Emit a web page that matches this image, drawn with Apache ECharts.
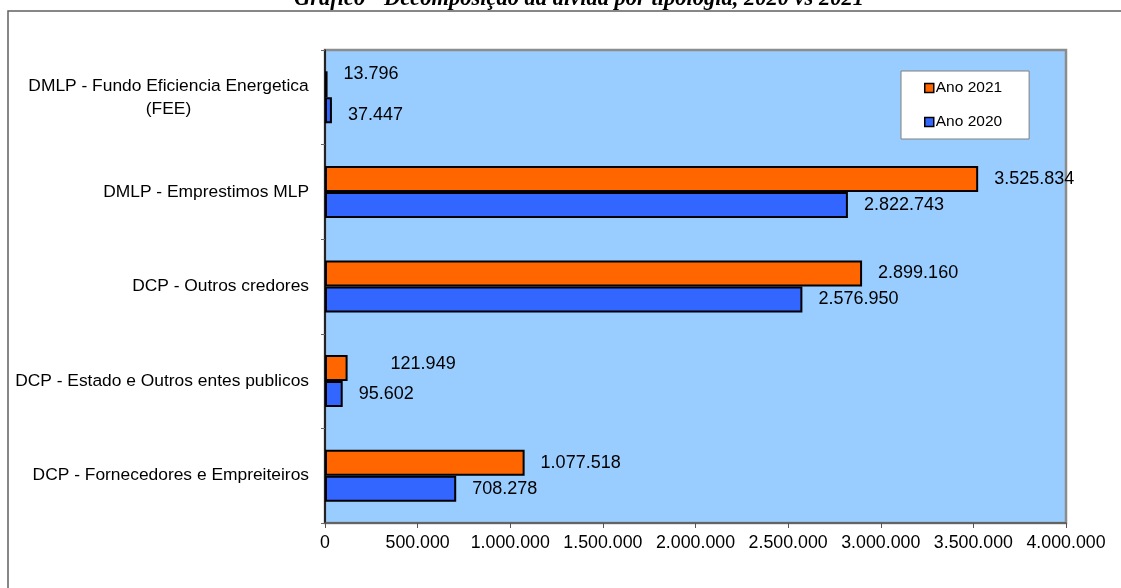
<!DOCTYPE html>
<html>
<head>
<meta charset="utf-8">
<script src="https://cdn.jsdelivr.net/npm/echarts@6/dist/echarts.min.js"></script>
<style>
html,body{margin:0;padding:0;background:#fff;}
#c{width:1121px;height:588px;}
</style>
</head>
<body>
<div id="c"></div>
<script>
const titleText = 'Gráfico - Decomposição da dívida por tipologia, 2020 vs 2021';
const categories = [
  'DCP - Fornecedores e Empreiteiros',
  'DCP - Estado e Outros entes publicos',
  'DCP - Outros credores',
  'DMLP - Emprestimos MLP',
  'DMLP - Fundo Eficiencia Energetica\n(FEE)'
];
const seriesNames = ['Ano 2021', 'Ano 2020'];
const values2021 = [1077518, 121949, 2899160, 3525834, 13796];
const values2020 = [708278, 95602, 2576950, 2822743, 37447];
const xTicks = { min: 0, max: 4000000, step: 500000 };

function fmt(v) {
  return String(Math.round(v)).replace(/\B(?=(\d{3})+(?!\d))/g, '.');
}

const font = '"Liberation Sans", Arial, Helvetica, sans-serif';
const catFontSize = 17.4;

// measure widest line of multi-line category labels so the block stays right-aligned
const ctx = document.createElement('canvas').getContext('2d');
ctx.font = catFontSize + 'px ' + font;
function lineWidth(s) { return Math.ceil(ctx.measureText(s).width); }
const fullLines = [];
categories.forEach(c => c.split('\n').forEach(l => fullLines.push(l)));
const multiWidth = Math.max.apply(null, categories.filter(c => c.indexOf('\n') >= 0)
  .map(c => Math.max.apply(null, c.split('\n').map(lineWidth))));

const chart = echarts.init(document.getElementById('c'));

const labelBase = {
  show: true, position: 'right', distance: 16,
  color: '#000', fontSize: 18, fontFamily: font,
  formatter: p => fmt(p.value)
};

// per-item label tweaks (styling only)
const lab2021 = values2021.map((v, i) => {
  if (i === 4) return { value: v, label: { offset: [0, -10] } };
  if (i === 1) return { value: v, label: { distance: 43, offset: [0, -4] } };
  return v;
});
const lab2020 = values2020.map((v, i) => {
  if (i === 4) return { value: v, label: { offset: [0, 5] } };
  return v;
});

chart.setOption({
  animation: false,
  backgroundColor: '#fff',
  title: {
    text: titleText,
    left: 294,
    top: -12,
    padding: 0,
    textStyle: {
      fontFamily: '"Liberation Serif", "Times New Roman", serif',
      fontStyle: 'italic', fontWeight: 'bold', fontSize: 22.5, lineHeight: 22, color: '#000'
    }
  },
  graphic: [{
    type: 'rect', silent: true, z: -1,
    shape: { x: 8, y: 11, width: 1300, height: 800 },
    style: { fill: 'none', stroke: '#606060', lineWidth: 1.5 }
  }],
  legend: {
    orient: 'vertical',
    left: 901, top: 71,
    padding: [9, 27, 9, 23],
    itemGap: 18,
    itemWidth: 9, itemHeight: 9,
    icon: 'rect',
    backgroundColor: '#fff',
    borderColor: '#808080', borderWidth: 1,
    data: ['Ano 2021', 'Ano 2020'],
    textStyle: { fontSize: 15.5, fontFamily: font, color: '#000', padding: [0, 0, 0, -3] },
    itemStyle: { borderColor: '#000', borderWidth: 1.5 }
  },
  grid: {
    left: 325, top: 50, right: 55, bottom: 65,
    show: true, backgroundColor: '#99CCFF',
    borderColor: '#8c8c8c', borderWidth: 2.5
  },
  xAxis: {
    type: 'value',
    min: xTicks.min, max: xTicks.max, interval: xTicks.step,
    axisLine: { show: true, lineStyle: { color: '#555', width: 1.5 } },
    axisTick: { show: true, length: 5, lineStyle: { color: '#555' } },
    splitLine: { show: false },
    axisLabel: { color: '#000', fontSize: 17.8, fontFamily: font, margin: 11, formatter: v => fmt(v) }
  },
  yAxis: {
    type: 'category',
    data: categories,
    axisLine: { show: true, lineStyle: { color: '#000', width: 1.5 } },
    axisTick: { show: true, length: 4, lineStyle: { color: '#666' } },
    axisLabel: {
      color: '#000', fontSize: catFontSize, fontFamily: font, margin: 16, lineHeight: 23,
      formatter: v => (v.indexOf('\n') < 0 ? v : '{c|' + v + '}'),
      rich: {
        c: {
          fontSize: catFontSize, fontFamily: font, color: '#000', lineHeight: 23,
          width: multiWidth, align: 'center'
        }
      }
    }
  },
  series: [
    {
      name: seriesNames[0], type: 'bar', data: lab2021,
      barWidth: 26, barGap: '0%',
      itemStyle: { color: '#FF6600', borderColor: '#000', borderWidth: 2 },
      label: labelBase
    },
    {
      name: seriesNames[1], type: 'bar', data: lab2020,
      barWidth: 26, barGap: '0%',
      itemStyle: { color: '#3366FF', borderColor: '#000', borderWidth: 2 },
      label: labelBase
    }
  ]
});
</script>
</body>
</html>
